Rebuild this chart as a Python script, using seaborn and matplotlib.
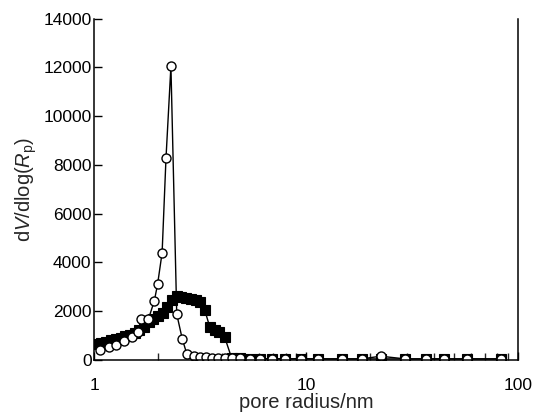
import matplotlib
matplotlib.use("Agg")
import matplotlib.pyplot as plt
import matplotlib.ticker as mticker
import seaborn as sns
import pandas as pd

# open circles
circle_r = [1.06, 1.175, 1.27, 1.38, 1.50, 1.61, 1.66, 1.80, 1.92, 1.99, 2.09, 2.18, 2.30,
            2.45, 2.60, 2.73, 2.95, 3.15, 3.37, 3.59, 3.84, 4.14, 4.47, 4.87, 5.43, 6.06,
            6.88, 7.96, 9.44, 11.4, 14.85, 18.3, 22.5, 29.4, 36.8, 44.9, 57.5, 83.3]
circle_v = [400, 530, 590, 770, 920, 1150, 1670, 1670, 2420, 3110, 4400, 8280, 12050,
            1880, 870, 260, 170, 130, 110, 90, 80, 70, 60, 60, 50, 50,
            45, 45, 45, 40, 40, 40, 150, 40, 40, 40, 40, 40]

# filled squares
square_r = [1.02, 1.08, 1.14, 1.20, 1.26, 1.33, 1.40, 1.47, 1.55, 1.63, 1.72, 1.81, 1.90,
            2.00, 2.10, 2.21, 2.33, 2.45, 2.58, 2.72, 2.86, 3.01, 3.17, 3.32, 3.51, 3.70,
            3.88, 4.12, 4.45, 4.87, 5.43, 6.06, 6.88, 7.96, 9.44, 11.4, 14.85, 18.3, 22.5,
            29.4, 36.8, 44.9, 57.5, 83.3]
square_v = [640, 700, 750, 800, 850, 900, 960, 1040, 1120, 1220, 1360, 1560, 1670,
            1800, 1940, 2150, 2450, 2620, 2580, 2540, 2500, 2460, 2380, 2050, 1350, 1230,
            1150, 950, 80, 60, 50, 50, 45, 45, 45, 40, 40, 40, 40,
            40, 40, 40, 40, 40]

y_ticks = [0, 2000, 4000, 6000, 8000, 10000, 12000, 14000]

sns.set_theme(style="ticks")
plt.rcParams["font.family"] = ["Liberation Sans", "DejaVu Sans"]
plt.rcParams["mathtext.fontset"] = "custom"
plt.rcParams["mathtext.rm"] = "Liberation Sans"
plt.rcParams["mathtext.it"] = "Liberation Sans:italic"
plt.rcParams["xtick.direction"] = "in"
plt.rcParams["ytick.direction"] = "in"

fig = plt.figure(figsize=(5.36, 4.17), dpi=100)
ax = fig.add_axes([0.176, 0.137, 0.79, 0.818])

sq = pd.DataFrame({"r": square_r, "v": square_v})
ci = pd.DataFrame({"r": circle_r, "v": circle_v})

sns.lineplot(data=sq, x="r", y="v", sort=False, color="black", linewidth=1.0,
             marker="s", markersize=7, markerfacecolor="black",
             markeredgecolor="black", markeredgewidth=0.8, ax=ax)
sns.lineplot(data=ci, x="r", y="v", sort=False, color="black", linewidth=1.0,
             marker="o", markersize=6.5, markerfacecolor="white",
             markeredgecolor="black", markeredgewidth=1.0, ax=ax)

ax.set_xscale("log")
ax.set_xlim(1, 100)
ax.set_ylim(0, 14000)
ax.set_yticks(y_ticks)
ax.xaxis.set_major_formatter(mticker.FuncFormatter(lambda v, p: f"{v:g}"))
ax.xaxis.set_minor_formatter(mticker.NullFormatter())

ax.spines["top"].set_visible(False)
for s in ["left", "bottom", "right"]:
    ax.spines[s].set_linewidth(1.1)
    ax.spines[s].set_color("black")

ax.tick_params(axis="both", which="major", direction="in", length=6, width=1,
               labelsize=12.5, colors="black", pad=2)
ax.tick_params(axis="x", which="major", pad=13)
ax.tick_params(axis="x", which="minor", direction="in", length=5, width=1)
ax.tick_params(axis="y", which="both", right=False)

ax.set_xlabel("pore radius/nm", fontsize=14.5, labelpad=0)
ax.set_ylabel(r"d$V$/dlog($R_\mathrm{p}$)", fontsize=14.5, labelpad=3)

fig.savefig("out.png", dpi=100)
